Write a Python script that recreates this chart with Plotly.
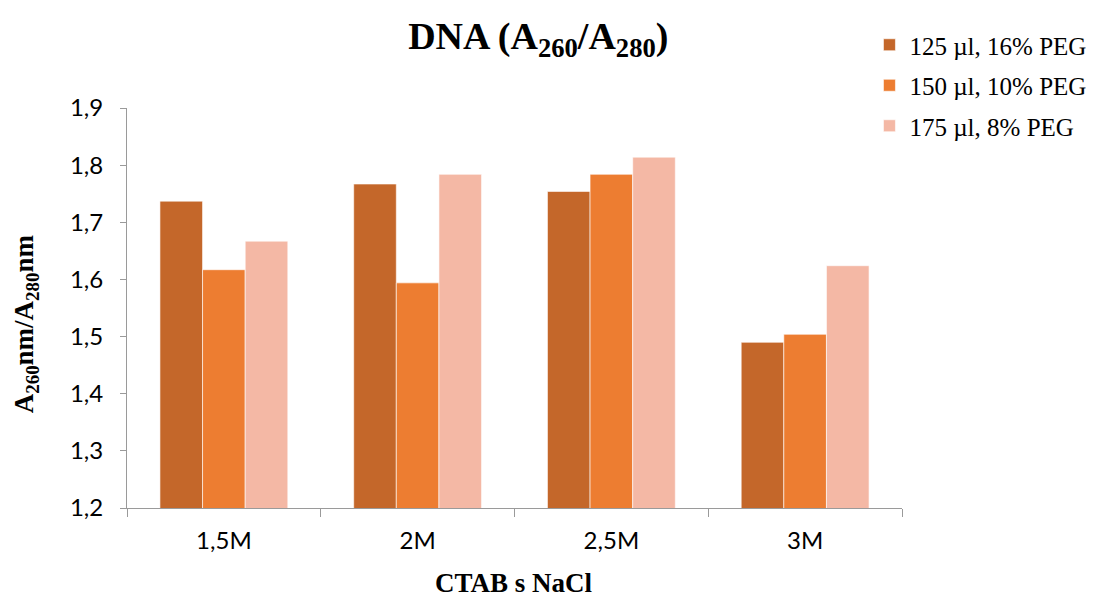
import plotly.graph_objects as go

categories = ["1,5M", "2M", "2,5M", "3M"]
series_names = ["125 µl, 16% PEG", "150 µl, 10% PEG", "175 µl, 8% PEG"]
s125 = [1.737, 1.767, 1.754, 1.490]
s150 = [1.617, 1.594, 1.784, 1.504]
s175 = [1.667, 1.784, 1.814, 1.624]
colors = ["#C4672A", "#ED7D31", "#F4B8A5"]

fig = go.Figure()
for i, (name, vals, c) in enumerate(zip(series_names, [s125, s150, s175], colors)):
    fig.add_trace(go.Bar(
        x=categories, y=vals, name=name, legendgroup="g%d" % i,
        marker=dict(color=c, line=dict(color="rgba(255,255,255,0.6)", width=1)),
    ))

fig.update_layout(
    width=1103, height=599,
    paper_bgcolor="white", plot_bgcolor="white",
    margin=dict(l=127, r=193, t=108, b=91),
    barmode="group", bargap=0.34, bargroupgap=0,
    title=dict(
        text="<b>DNA (A<sub>260</sub>/A<sub>280</sub>)</b>",
        font=dict(family="Liberation Serif", size=38, color="black"),
        x=0.488, xanchor="center", y=0.94, yanchor="middle", yref="container",
    ),
    legend=dict(
        x=0.958, xanchor="left", y=1.215, yanchor="top",
        font=dict(family="Liberation Serif", size=25, color="black"),
        tracegroupgap=5, itemwidth=30, traceorder="grouped",
    ),
    xaxis=dict(
        automargin=False,
        showline=True, linecolor="#9a9a9a", linewidth=1,
        ticks="outside", tickson="boundaries", ticklen=8, tickcolor="#9a9a9a",
        tickfont=dict(family="Lato", size=24, color="black"),
        ticklabelstandoff=11,
        showgrid=False,
    ),
    yaxis=dict(
        automargin=False,
        range=[1.2, 1.9], dtick=0.1, tickformat=".1f",
        showline=True, linecolor="#9a9a9a", linewidth=1,
        ticks="outside", ticklen=6, tickcolor="#9a9a9a",
        tickfont=dict(family="Lato", size=24, color="black"),
        ticklabelstandoff=12,
        showgrid=False, zeroline=False,
    ),
    separators=", ",
)
fig.add_annotation(
    text="<b>A<sub>260</sub>nm/A<sub>280</sub>nm</b>",
    font=dict(family="Liberation Serif", size=27, color="black"),
    xref="paper", yref="paper", x=-0.13, y=0.46,
    xanchor="center", yanchor="middle", textangle=-90, showarrow=False,
)
fig.add_annotation(
    text="<b>CTAB s NaCl</b>",
    font=dict(family="Liberation Serif", size=27, color="black"),
    xref="paper", yref="paper", x=0.499, y=-0.1875,
    xanchor="center", yanchor="middle", showarrow=False,
)

fig.write_html("out.html")
